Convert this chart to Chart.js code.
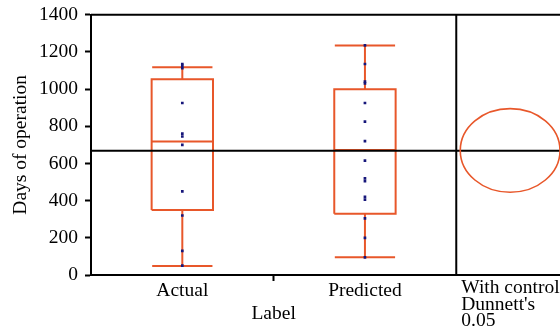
<!DOCTYPE html>
<html>
<head>
<meta charset="utf-8">
<script src="https://cdn.jsdelivr.net/npm/chart.js@4/dist/chart.umd.min.js"></script>
<style>
  html, body { margin: 0; padding: 0; background: #ffffff; overflow: hidden; }
  #wrap { width: 560px; height: 333px; overflow: hidden; position: relative; }
  #c { display: block; position: absolute; left: 0; top: -4px; }
</style>
</head>
<body>
<div id="wrap"><canvas id="c" width="564" height="337"></canvas></div>
<script>
// ---- data ----
const categories = ['Actual', 'Predicted'];
const actualValues = [1135, 1125, 1112, 925, 760, 745, 700, 450, 320, 130, 50];
const predictedValues = [1235, 1135, 1040, 1030, 925, 825, 720, 615, 520, 505, 420, 405, 305, 200, 95];
const whiskerLow = [48, 96];
const quartile1 = [349, 330];
const medians = [718, 672];
const quartile3 = [1053, 999];
const whiskerHigh = [1118, 1234];
const yTickValues = [0, 200, 400, 600, 800, 1000, 1200, 1400];
const referenceValue = 668;      // grand mean line
const circleCenter = 670;        // comparison circle centre
const circleRadius = 225;        // comparison circle radius
const comparisonText = ['With control', "Dunnett's", '0.05'];
const xTitle = 'Label';
const yTitle = 'Days of operation';

// ---- styles ----
const ORANGE = '#e8572a';
const DOT = '#16167a';
const FONT = 'Liberation Serif';
const FS = 19.5;
const boxHalf = 0.168;
const capHalf = 0.165;
const xMin = 0.5, xMax = 3.068, panelStart = 2.5;

const seriesValues = [actualValues, predictedValues];
const datasets = [];
function seg(points, color, width, order, clip) {
  return { type: 'line', data: points, borderColor: color, borderWidth: width,
           pointRadius: 0, fill: false, tension: 0, showLine: true, order: order,
           clip: clip === undefined ? 3 : clip, borderJoinStyle: 'miter' };
}
// frame + reference lines
datasets.push(seg([{x: xMin, y: referenceValue}, {x: xMax, y: referenceValue}], '#000', 2, 1, false));
datasets.push(seg([{x: xMin, y: yTickValues[yTickValues.length - 1]}, {x: xMax, y: yTickValues[yTickValues.length - 1]}], '#000', 2, 1, false));
datasets.push(seg([{x: panelStart, y: yTickValues[0]}, {x: panelStart, y: yTickValues[yTickValues.length - 1]}], '#000', 2, 1, false));

categories.forEach((c, i) => {
  const x = i + 1;
  datasets.push(seg([
    {x: x - boxHalf, y: quartile1[i]}, {x: x + boxHalf, y: quartile1[i]},
    {x: x + boxHalf, y: quartile3[i]}, {x: x - boxHalf, y: quartile3[i]},
    {x: x - boxHalf, y: quartile1[i]}], ORANGE, 2, 2));
  datasets.push(seg([{x: x - boxHalf, y: medians[i]}, {x: x + boxHalf, y: medians[i]}], ORANGE, 2, 2));
  datasets.push(seg([{x: x, y: quartile1[i]}, {x: x, y: whiskerLow[i]}], ORANGE, 2, 2));
  datasets.push(seg([{x: x, y: quartile3[i]}, {x: x, y: whiskerHigh[i]}], ORANGE, 2, 2));
  datasets.push(seg([{x: x - capHalf, y: whiskerLow[i]}, {x: x + capHalf, y: whiskerLow[i]}], ORANGE, 2, 2));
  datasets.push(seg([{x: x - capHalf, y: whiskerHigh[i]}, {x: x + capHalf, y: whiskerHigh[i]}], ORANGE, 2, 2));
});
categories.forEach((c, i) => {
  datasets.push({
    type: 'scatter', order: 0,
    data: seriesValues[i].map(v => ({x: i + 1, y: v})),
    pointStyle: 'rect', pointRadius: 1.9, backgroundColor: DOT, borderWidth: 0,
    showLine: false
  });
});

const comparisonPlugin = {
  id: 'comparison',
  afterDatasetsDraw(chart) {
    const {ctx, chartArea, scales} = chart;
    const sx = scales.x.getPixelForValue(panelStart);
    const cy = scales.y.getPixelForValue(circleCenter);
    const ry = Math.abs(scales.y.getPixelForValue(circleCenter + circleRadius) - cy);
    const rx = (chartArea.right - sx - 4) / 2;
    const cx = sx + 4 + rx;
    ctx.save();
    ctx.strokeStyle = ORANGE;
    ctx.lineWidth = 1.6;
    ctx.beginPath();
    ctx.ellipse(cx, cy, rx, ry, 0, 0, Math.PI * 2);
    ctx.stroke();
    ctx.fillStyle = '#000';
    ctx.font = FS + 'px "' + FONT + '"';
    ctx.textAlign = 'left';
    ctx.textBaseline = 'alphabetic';
    comparisonText.forEach((t, k) => ctx.fillText(t, sx + 5, chartArea.bottom + 18 + k * 16.5));
    ctx.restore();
  }
};

new Chart(document.getElementById('c'), {
  type: 'scatter',
  data: { datasets },
  options: {
    responsive: false,
    animation: false,
    layout: { padding: 0 },
    plugins: { legend: { display: false }, tooltip: { enabled: false } },
    scales: {
      x: {
        type: 'linear', min: xMin, max: xMax,
        afterBuildTicks(scale) { scale.ticks = [{value: 1}, {value: 1.5}, {value: 2}]; },
        afterFit(scale) { scale.height = 58; },
        ticks: {
          autoSkip: false, maxRotation: 0, color: '#000', padding: -2,
          font: { family: FONT, size: FS },
          callback: v => v === 1 ? categories[0] : v === 2 ? categories[1] : ['', xTitle]
        },
        grid: {
          drawOnChartArea: false, drawTicks: true, tickLength: 6, tickWidth: 2,
          tickColor: ctx => (ctx.tick && ctx.tick.value === 1.5) ? '#000' : 'rgba(0,0,0,0)'
        },
        border: { display: true, color: '#000', width: 2 }
      },
      y: {
        min: 0, max: 1400,
        afterBuildTicks(scale) { scale.ticks = yTickValues.map(v => ({value: v})); },
        afterFit(scale) { scale.width = 91; },
        ticks: { color: '#000', padding: 7, font: { family: FONT, size: FS }, callback: v => String(v) },
        grid: { drawOnChartArea: false, drawTicks: true, tickLength: 6, tickWidth: 2, tickColor: '#000' },
        border: { display: true, color: '#000', width: 2 },
        title: { display: true, text: yTitle, color: '#000', font: { family: FONT, size: FS }, padding: { top: 9, bottom: 0 } }
      }
    }
  },
  plugins: [comparisonPlugin]
});
</script>
</body>
</html>
